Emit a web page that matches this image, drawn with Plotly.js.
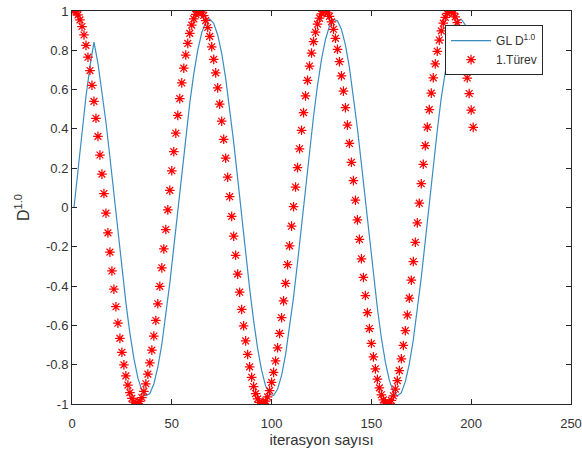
<!DOCTYPE html>
<html>
<head>
<meta charset="utf-8">
<script src="https://cdn.plot.ly/plotly-3.0.1.min.js"></script>
<style>
html,body{margin:0;padding:0;background:#ffffff;}
#chart{width:582px;height:459px;}
</style>
</head>
<body>
<div id="chart"></div>
<script>
// Iteration numbers for the red "1.Türev" markers
const turevX = [
1,2,3,4,5,6,7,8,9,10,11,12,13,14,15,16,17,18,19,20,
21,22,23,24,25,26,27,28,29,30,31,32,33,34,35,36,37,38,39,40,
41,42,43,44,45,46,47,48,49,50,51,52,53,54,55,56,57,58,59,60,
61,62,63,64,65,66,67,68,69,70,71,72,73,74,75,76,77,78,79,80,
81,82,83,84,85,86,87,88,89,90,91,92,93,94,95,96,97,98,99,100,
101,102,103,104,105,106,107,108,109,110,111,112,113,114,115,116,117,118,119,120,
121,122,123,124,125,126,127,128,129,130,131,132,133,134,135,136,137,138,139,140,
141,142,143,144,145,146,147,148,149,150,151,152,153,154,155,156,157,158,159,160,
161,162,163,164,165,166,167,168,169,170,171,172,173,174,175,176,177,178,179,180,
181,182,183,184,185,186,187,188,189,190,191,192,193,194,195,196,197,198,199,200,
201];
const turevY = [
1, 0.995, 0.980, 0.955, 0.921, 0.878, 0.825, 0.765, 0.697, 0.622,
0.540, 0.454, 0.362, 0.267, 0.170, 0.071, -0.029, -0.129, -0.227, -0.323,
-0.416, -0.505, -0.589, -0.666, -0.737, -0.801, -0.857, -0.904, -0.942, -0.971,
-0.990, -0.999, -0.998, -0.987, -0.967, -0.936, -0.897, -0.848, -0.791, -0.726,
-0.654, -0.575, -0.490, -0.401, -0.307, -0.211, -0.112, -0.012, 0.087, 0.187,
0.284, 0.378, 0.469, 0.554, 0.634, 0.709, 0.776, 0.835, 0.886, 0.928,
0.960, 0.983, 0.997, 1.000, 0.994, 0.977, 0.951, 0.916, 0.871, 0.818,
0.754, 0.685, 0.609, 0.526, 0.439, 0.347, 0.251, 0.154, 0.055, -0.045,
-0.146, -0.243, -0.339, -0.431, -0.519, -0.602, -0.679, -0.748, -0.811, -0.864,
-0.911, -0.947, -0.974, -0.992, -1.000, -0.998, -0.985, -0.964, -0.932, -0.890,
-0.839, -0.781, -0.714, -0.641, -0.561, -0.475, -0.386, -0.291, -0.195, -0.095,
0.004, 0.104, 0.203, 0.299, 0.393, 0.483, 0.568, 0.647, 0.720, 0.786,
0.844, 0.892, 0.933, 0.964, 0.986, 0.998, 0.999, 0.991, 0.973, 0.945,
0.907, 0.861, 0.805, 0.742, 0.670, 0.592, 0.508, 0.419, 0.326, 0.230,
0.137, 0.037, -0.063, -0.162, -0.261, -0.356, -0.448, -0.535, -0.616, -0.692,
-0.760, -0.821, -0.874, -0.918, -0.953, -0.979, -0.994, -1.000, -0.996, -0.982,
-0.958, -0.924, -0.881, -0.830, -0.770, -0.702, -0.627, -0.547, -0.461, -0.370,
-0.275, -0.177, -0.078, 0.022, 0.121, 0.220, 0.315, 0.409, 0.498, 0.582,
0.660, 0.731, 0.795, 0.852, 0.899, 0.938, 0.968, 0.988, 0.999, 0.999,
0.989, 0.970, 0.941, 0.902, 0.854, 0.797, 0.731, 0.659, 0.580, 0.496,
0.408];

// Iteration numbers and values for the blue "GL D^1.0" line
const glX = [
1,3,5,7,9,11,13,15,17,19,21,23,25,27,29,31,33,35,37,39,
41,43,45,47,49,51,53,55,57,59,61,63,65,67,69,71,73,75,77,79,
81,83,85,87,89,91,93,95,97,99,101,103,105,107,109,111,113,115,117,119,
121,123,125,127,129,131,133,135,137,139,141,143,145,147,149,151,153,155,157,159,
161,163,165,167,169,171,173,175,177,179,181,183,185,187,189,191,193,195,197,199,
201];
const glY = [
0, 0.199, 0.389, 0.565, 0.717, 0.842, 0.734, 0.596, 0.435, 0.256,
0.068, -0.124, -0.310, -0.484, -0.639, -0.768, -0.867, -0.931, -0.958, -0.947,
-0.898, -0.813, -0.696, -0.551, -0.385, -0.202, -0.012, 0.179, 0.362, 0.531,
0.680, 0.801, 0.890, 0.943, 0.959, 0.937, 0.878, 0.784, 0.657, 0.504,
0.333, 0.148, -0.043, -0.233, -0.413, -0.577, -0.717, -0.829, -0.908, -0.951,
-0.957, -0.924, -0.854, -0.749, -0.615, -0.456, -0.279, -0.091, 0.100, 0.287,
0.463, 0.620, 0.754, 0.855, 0.924, 0.957, 0.950, 0.906, 0.826, 0.712,
0.568, 0.402, 0.221, 0.035, -0.155, -0.341, -0.513, -0.664, -0.787, -0.880,
-0.939, -0.959, -0.942, -0.886, -0.796, -0.673, -0.525, -0.355, -0.170, 0.021,
0.211, 0.392, 0.558, 0.701, 0.817, 0.900, 0.947, 0.958, 0.930, 0.865,
0.764];

// Tick values and labels
const xTickVals = [0, 50, 100, 150, 200, 250];
const xTickLabels = ['0', '50', '100', '150', '200', '250'];
const yTickVals = [-1, -0.8, -0.6, -0.4, -0.2, 0, 0.2, 0.4, 0.6, 0.8, 1];
const yTickLabels = ['-1', '-0.8', '-0.6', '-0.4', '-0.2', '0', '0.2', '0.4', '0.6', '0.8', '1'];

const seriesNames = ['GL D<sup>1.0</sup>', '1.Türev'];

const traces = [
  {
    x: glX, y: glY, type: 'scatter', mode: 'lines', name: seriesNames[0],
    line: {color: '#3a8cc0', width: 1.2}
  },
  {
    x: turevX, y: turevY, type: 'scatter', mode: 'markers', name: seriesNames[1],
    marker: {symbol: 'asterisk-open', size: 8, color: '#ff0000', line: {color: '#f01010', width: 1.25}}
  }
];

const axisCommon = {
  showgrid: false, zeroline: false, showline: true, linecolor: '#262626', linewidth: 1,
  mirror: 'ticks', ticks: 'inside', ticklen: 5, tickcolor: '#262626', tickwidth: 1,
  tickfont: {family: 'Liberation Sans, Arial, sans-serif', size: 13, color: '#333333'}
};

const layout = {
  width: 582, height: 459,
  margin: {l: 72, r: 11, t: 11, b: 55},
  paper_bgcolor: '#ffffff', plot_bgcolor: '#ffffff',
  showlegend: true,
  xaxis: Object.assign({}, axisCommon, {
    range: [0, 250], tickmode: 'array', tickvals: xTickVals, ticktext: xTickLabels,
    ticklabelstandoff: 7,
    title: {text: 'iterasyon sayısı', font: {family: 'Liberation Sans, Arial, sans-serif', size: 15, color: '#333333'}, standoff: 2}
  }),
  yaxis: Object.assign({}, axisCommon, {
    range: [-1, 1], tickmode: 'array', tickvals: yTickVals, ticktext: yTickLabels,
    title: {text: 'D<sup>1.0</sup>', font: {family: 'Liberation Sans, Arial, sans-serif', size: 16, color: '#333333'}, standoff: 12}
  }),
  legend: {
    x: 0.944, xanchor: 'right', y: 0.964, yanchor: 'top',
    bgcolor: '#ffffff', bordercolor: '#262626', borderwidth: 1,
    font: {family: 'Liberation Sans, Arial, sans-serif', size: 12, color: '#333333'},
    itemwidth: 40, tracegroupgap: 0
  }
};

Plotly.newPlot('chart', traces, layout, {displayModeBar: false, staticPlot: true});
</script>
</body>
</html>
